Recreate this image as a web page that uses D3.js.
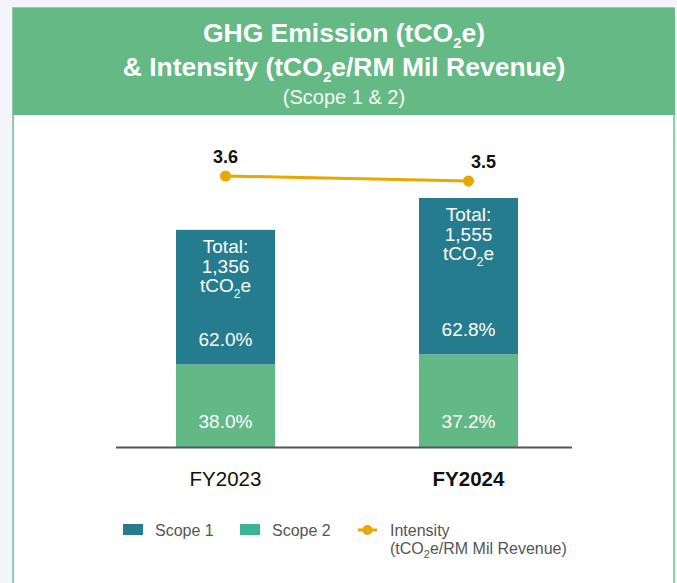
<!DOCTYPE html>
<html><head><meta charset="utf-8">
<script src="https://cdn.jsdelivr.net/npm/d3@7"></script>
<style>
html,body{margin:0;padding:0;background:#f3f5fa;}
svg{display:block;font-family:"Liberation Sans",Arial,Helvetica,sans-serif;}
</style></head>
<body>
<svg id="chart" width="677" height="583"></svg>
<script>
const categories = ["FY2023", "FY2024"];
const totals = [1356, 1555];
const scope1Pct = [62.0, 62.8];
const scope2Pct = [38.0, 37.2];
const intensity = [3.6, 3.5];
const seriesNames = ["Scope 1", "Scope 2", "Intensity"];

const C1 = "#267c8f", C2 = "#63b985", C2legend = "#3db395", CI = "#e8a800";

const svg = d3.select("#chart");

// panel
svg.append("rect").attr("x",13).attr("y",8).attr("width",661).attr("height",600)
  .attr("fill","#fff").attr("stroke","#6fc08d").attr("stroke-width",1.5);
svg.append("rect").attr("x",13).attr("y",8).attr("width",662).attr("height",107).attr("fill","#64b984");

// text with subscripts
function subText(sel, parts){
  let pending = 0;
  parts.forEach(p=>{
    const ts = sel.append("tspan").text(p.t);
    if(p.sub){ ts.attr("dy", p.dy).attr("font-size", p.size); pending = -p.dy; }
    else if(pending){ ts.attr("dy", pending); pending = 0; }
  });
}
const t1 = svg.append("text").attr("x",344).attr("y",42).attr("text-anchor","middle")
  .attr("fill","#fff").attr("font-weight","bold").attr("font-size",26.5);
subText(t1,[{t:"GHG Emission (tCO"},{t:"2",sub:true,dy:6,size:15},{t:"e)"}]);
const t2 = svg.append("text").attr("x",344).attr("y",76).attr("text-anchor","middle")
  .attr("fill","#fff").attr("font-weight","bold").attr("font-size",26.5);
subText(t2,[{t:"& Intensity (tCO"},{t:"2",sub:true,dy:6,size:15},{t:"e/RM Mil Revenue)"}]);
svg.append("text").attr("x",344).attr("y",104).attr("text-anchor","middle")
  .attr("fill","#f4fbf6").attr("font-size",20).text("(Scope 1 & 2)");

// scales
const x = d3.scaleBand().domain(categories).range([115.25, 578.75]).paddingInner(0.5926).paddingOuter(0.25);
const y = d3.scaleLinear().domain([0, 1555]).range([447, 198]);
const y2 = d3.scaleLinear().domain([0, 4]).range([356, 156]);

const data = categories.map((c,i)=>({c, total:totals[i], s1:totals[i]*scope1Pct[i]/100, s2:totals[i]*scope2Pct[i]/100, p1:scope1Pct[i], p2:scope2Pct[i], inten:intensity[i]}));

const g = svg.append("g");
g.selectAll(".s2").data(data).join("rect")
  .attr("x",d=>x(d.c)).attr("width",x.bandwidth())
  .attr("y",d=>y(d.s2)).attr("height",d=>y(0)-y(d.s2)).attr("fill",C2);
g.selectAll(".s1").data(data).join("rect")
  .attr("x",d=>x(d.c)).attr("width",x.bandwidth())
  .attr("y",d=>y(d.total)).attr("height",d=>y(d.s2)-y(d.total)).attr("fill",C1);

// axis
const xAxis = d3.axisBottom(x).tickSize(0).tickPadding(0);
const ax = svg.append("g").attr("transform","translate(0,447)").call(xAxis);
ax.select(".domain").remove();
ax.selectAll("text").remove();
svg.append("line").attr("x1",116).attr("x2",572).attr("y1",447.5).attr("y2",447.5).attr("stroke","#555").attr("stroke-width",2);

svg.selectAll(".cat").data(data).join("text")
  .attr("x",d=>x(d.c)+x.bandwidth()/2).attr("y",486).attr("text-anchor","middle")
  .attr("font-size",20.5).attr("fill","#111").attr("font-weight",(d,i)=>i===1?"bold":"normal").text(d=>d.c);

// in-bar labels
data.forEach(d=>{
  const cx = x(d.c)+x.bandwidth()/2;
  const top = y(d.total);
  const fs = 19;
  svg.append("text").attr("x",cx).attr("y",top+23).attr("text-anchor","middle").attr("fill","#fff").attr("font-size",fs).text("Total:");
  svg.append("text").attr("x",cx).attr("y",top+43).attr("text-anchor","middle").attr("fill","#fff").attr("font-size",fs).text(d3.format(",")(d.total));
  const tt = svg.append("text").attr("x",cx).attr("y",top+62).attr("text-anchor","middle").attr("fill","#fff").attr("font-size",fs);
  subText(tt,[{t:"tCO"},{t:"2",sub:true,dy:6,size:12},{t:"e"}]);
  svg.append("text").attr("x",cx).attr("y",y(d.s2)-18).attr("text-anchor","middle").attr("fill","#fff").attr("font-size",fs).text(d.p1.toFixed(1)+"%");
  svg.append("text").attr("x",cx).attr("y",428).attr("text-anchor","middle").attr("fill","#fff").attr("font-size",fs).text(d.p2.toFixed(1)+"%");
});

// intensity line
const line = d3.line().x(d=>x(d.c)+x.bandwidth()/2).y(d=>y2(d.inten));
svg.append("path").datum(data).attr("d",line).attr("fill","none").attr("stroke",CI).attr("stroke-width",3);
svg.selectAll(".pt").data(data).join("circle")
  .attr("cx",d=>x(d.c)+x.bandwidth()/2).attr("cy",d=>y2(d.inten)).attr("r",5.5).attr("fill",CI);
svg.selectAll(".il").data(data).join("text")
  .attr("x",(d,i)=>x(d.c)+x.bandwidth()/2+(i===1?15:0)).attr("y",d=>y2(d.inten)-13)
  .attr("text-anchor","middle").attr("font-size",18).attr("font-weight","bold").attr("fill","#111")
  .text(d=>d.inten.toFixed(1));

// legend
const lg = svg.append("g").attr("font-size",16).attr("fill","#555");
lg.append("rect").attr("x",123).attr("y",524).attr("width",20).attr("height",11).attr("fill",C1);
lg.append("text").attr("x",155).attr("y",536).text(seriesNames[0]);
lg.append("rect").attr("x",240).attr("y",524).attr("width",20).attr("height",11).attr("fill",C2legend);
lg.append("text").attr("x",272).attr("y",536).text(seriesNames[1]);
lg.append("line").attr("x1",358).attr("x2",377).attr("y1",530).attr("y2",530).attr("stroke",CI).attr("stroke-width",3);
lg.append("circle").attr("cx",367.5).attr("cy",530).attr("r",5).attr("fill",CI);
lg.append("text").attr("x",390).attr("y",536).text(seriesNames[2]);
const l2 = lg.append("text").attr("x",390).attr("y",554);
subText(l2,[{t:"(tCO"},{t:"2",sub:true,dy:4,size:11},{t:"e/RM Mil Revenue)"}]);
</script>
</body></html>
